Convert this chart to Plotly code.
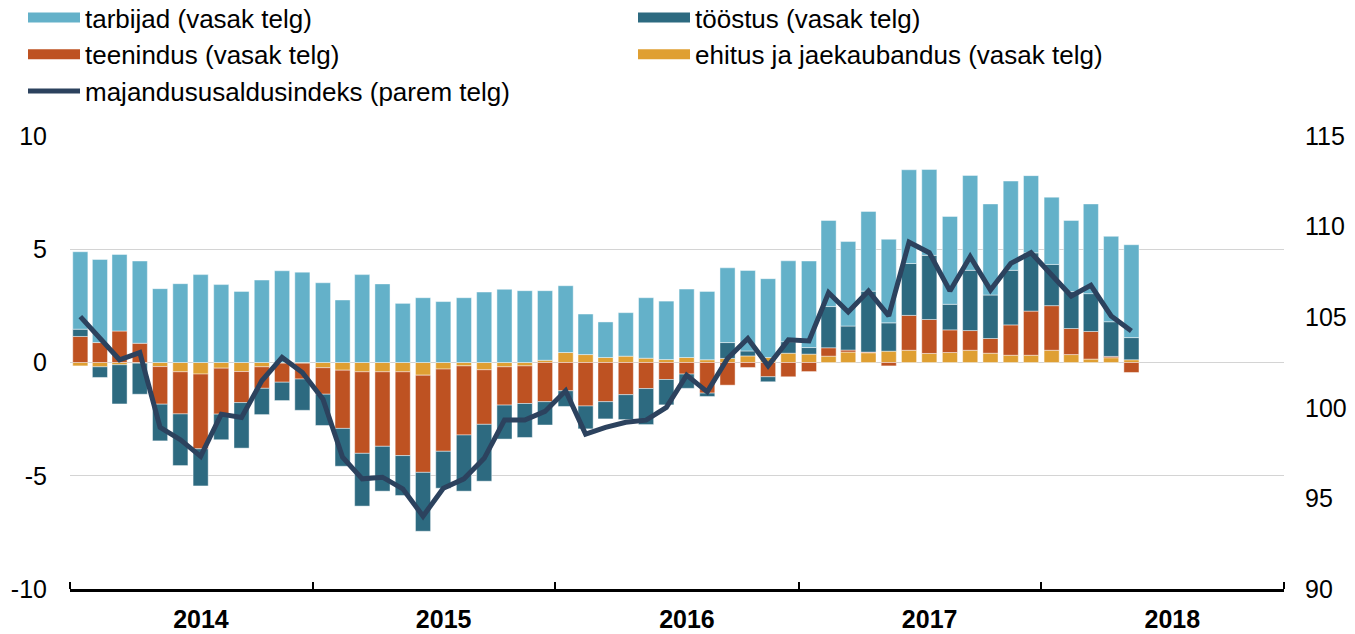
import pandas as pd
import plotly.graph_objects as go

months = pd.date_range("2014-01-01", periods=53, freq="MS")

ehitus = [-0.15, -0.19, -0.10, -0.03, -0.18, -0.41, -0.51, -0.25, -0.40, -0.19, -0.03, -0.03,
          -0.23, -0.34, -0.41, -0.41, -0.41, -0.56, -0.29, -0.15, -0.32, -0.19, -0.15, 0.10,
          0.44, 0.35, 0.22, 0.28, 0.19, 0.13, 0.22, 0.12, 0.18, 0.29, 0.22, 0.41,
          0.37, 0.28, 0.46, 0.43, 0.50, 0.54, 0.40, 0.44, 0.54, 0.41, 0.32, 0.32,
          0.54, 0.35, 0.15, 0.21, 0.12]
teenindus = [1.15, 0.88, 1.39, 0.85, -1.66, -1.86, -3.30, -2.03, -1.37, -0.95, -0.84, -0.70,
             -1.17, -2.57, -3.60, -3.29, -3.70, -4.29, -3.63, -3.05, -2.41, -1.69, -1.66, -1.73,
             -1.25, -1.92, -1.73, -1.42, -1.15, -0.75, -0.51, -1.35, -1.00, -0.22, -0.63, -0.63,
             -0.40, 0.37, 0.09, 0.03, -0.15, 1.54, 1.50, 1.00, 0.87, 0.65, 1.34, 1.95,
             1.97, 1.15, 1.22, 0.06, -0.44]
toostus = [0.32, -0.47, -1.73, -1.37, -1.62, -2.28, -1.64, -1.13, -2.01, -1.16, -0.81, -1.38,
           -1.38, -1.67, -2.33, -1.98, -1.76, -2.60, -1.63, -2.48, -2.51, -1.50, -1.50, -1.03,
           -0.69, -1.01, -0.76, -1.10, -1.59, -1.12, -0.63, -0.15, 0.70, 0.22, -0.22, 0.51,
           0.29, 1.82, 1.06, 2.69, 1.25, 2.29, 2.83, 1.13, 2.66, 1.92, 2.41, 2.57,
           1.82, 1.63, 1.67, 1.53, 0.98]
tarbijad = [3.42, 3.67, 3.38, 3.63, 3.26, 3.48, 3.88, 3.44, 3.14, 3.64, 4.05, 3.99,
            3.52, 2.76, 3.88, 3.47, 2.61, 2.86, 2.69, 2.86, 3.11, 3.23, 3.17, 3.07,
            2.95, 1.79, 1.57, 1.92, 2.67, 2.58, 3.02, 3.02, 3.30, 3.55, 3.48, 3.57,
            3.82, 3.80, 3.73, 3.52, 3.69, 4.14, 3.79, 3.88, 4.19, 4.02, 3.94, 3.41,
            2.97, 3.14, 3.96, 3.77, 4.10]
majandus = [105.03, 103.84, 102.65, 103.05, 98.92, 98.24, 97.32, 99.65, 99.47, 101.49, 102.78, 101.95,
            100.48, 97.27, 96.08, 96.17, 95.53, 94.02, 95.56, 96.08, 97.21, 99.32, 99.32, 99.80,
            100.94, 98.55, 98.92, 99.20, 99.32, 100.02, 101.80, 100.88, 102.72, 103.82, 102.32, 103.75,
            103.69, 106.35, 105.29, 106.45, 105.07, 109.14, 108.56, 106.45, 108.34, 106.50, 107.97, 108.56,
            107.36, 106.17, 106.76, 105.07, 104.24]

year_labels = ["2014", "2015", "2016", "2017", "2018"]
year_label_pos = ["2014-07-17", "2015-07-17", "2016-07-17", "2017-07-17", "2018-07-17"]
left_ticks = [-10, -5, 0, 5, 10]
left_ticktext = ["-10", "-5", "0", "5", "10"]
right_ticks = [90, 95, 100, 105, 110, 115]

FONT = "Liberation Sans, Arial, sans-serif"
bar_line = dict(width=0.8, color="rgba(255,255,255,0.55)")

fig = go.Figure()
series = [
    ("ehitus ja jaekaubandus (vasak telg)", ehitus, "#df9f32", 4),
    ("teenindus (vasak telg)", teenindus, "#be5222", 3),
    ("tööstus (vasak telg)", toostus, "#2d6a80", 2),
    ("tarbijad (vasak telg)", tarbijad, "#64b1c9", 1),
]
for name, vals, col, rank in series:
    fig.add_trace(go.Bar(
        x=months, y=vals, name=name, marker=dict(color=col, line=bar_line),
        xperiod="M1", xperiodalignment="middle", showlegend=False, legendgroup=name,
    ))
    # legend swatch (wide rectangle like the original legend keys)
    fig.add_trace(go.Scatter(
        x=[None], y=[None], name=name, mode="lines", line=dict(color=col, width=17),
        legendgroup=name, legendrank=rank, hoverinfo="skip",
    ))
fig.add_trace(go.Scatter(
    x=months, y=majandus, name="majandususaldusindeks (parem telg)", mode="lines",
    line=dict(color="#2c425e", width=5), yaxis="y2",
    xperiod="M1", xperiodalignment="middle", legendrank=5,
))

W, H = 1355, 634
ml, mr, mt, mb = 23, 71, 136, 45
gw = W - ml - mr
gh = H - mt - mb
fig.update_layout(
    width=W, height=H,
    margin=dict(l=ml, r=mr, t=mt, b=mb, autoexpand=False),
    paper_bgcolor="white", plot_bgcolor="white",
    barmode="relative", bargap=0.23,
    font=dict(family=FONT, size=25, color="black"),
    showlegend=True,
    legend=dict(
        orientation="h", x=0, xanchor="left", y=1 + (mt + 6) / gh, yanchor="top",
        entrywidth=543, entrywidthmode="pixels", itemwidth=52,
        font=dict(family=FONT, size=26, color="black"),
        traceorder="normal", bgcolor="rgba(0,0,0,0)",
    ),
    xaxis=dict(
        type="date", domain=[47 / gw, 1],
        range=["2014-01-01", "2019-01-01"],
        tickmode="array", tickvals=year_label_pos, ticktext=year_labels,
        ticks="", tickfont=dict(family=FONT, size=25, weight="bold", color="black"),
        ticklabelstandoff=6,
        showline=True, linecolor="black", linewidth=2.5,
        showgrid=False, zeroline=False, automargin=False,
        minor=dict(tickmode="linear", tick0="2014-01-01", dtick="M12",
                   ticks="inside", ticklen=7, tickwidth=2, tickcolor="black", showgrid=False),
    ),
    yaxis=dict(
        range=[-10, 10], tickmode="array", tickvals=left_ticks, ticktext=left_ticktext,
        showgrid=True, gridcolor="#d4d4d4", gridwidth=1.3, zeroline=False,
        showline=False, ticks="", ticklabelstandoff=22, automargin=False,
        tickfont=dict(family=FONT, size=25, color="black"),
    ),
    yaxis2=dict(
        range=[90, 115], tickmode="array", tickvals=right_ticks,
        overlaying="y", side="right", anchor="x",
        showgrid=False, zeroline=False, showline=False, ticks="", ticklabelstandoff=20,
        automargin=False,
        tickfont=dict(family=FONT, size=25, color="black"),
    ),
)

# remove the browser's default 8px page margin so the figure sits at the window's corner
fig.write_html("out.html", config={"displayModeBar": False},
               post_script="document.body.style.margin='0';")
